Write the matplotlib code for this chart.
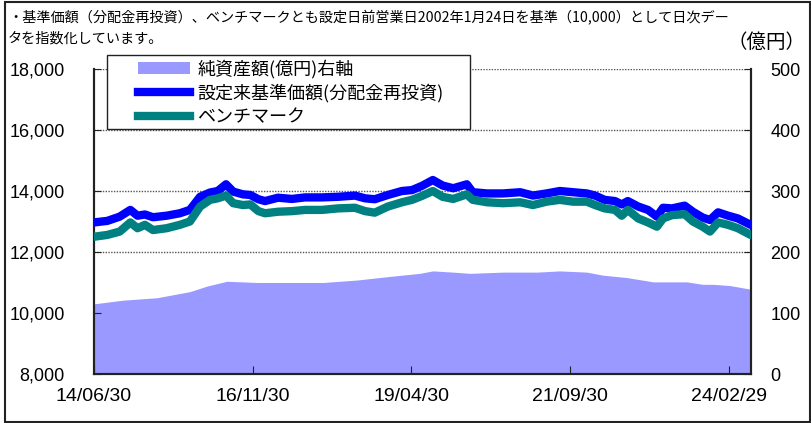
import matplotlib
matplotlib.use("Agg")
import matplotlib.pyplot as plt
from matplotlib.patches import Patch, Rectangle
from matplotlib.lines import Line2D
import pandas as pd

plt.rcParams['font.family'] = ['Noto Sans CJK JP', 'DejaVu Sans']

# ---- data ----
line_dates = ["2014-06-30", "2014-09-12", "2014-11-20", "2015-01-18", "2015-02-27", "2015-04-09",
              "2015-05-24", "2015-08-08", "2015-10-20", "2015-12-15", "2016-02-10", "2016-04-05",
              "2016-05-18", "2016-07-03", "2016-08-12", "2016-10-05", "2016-11-15", "2016-12-30",
              "2017-02-05", "2017-04-18", "2017-07-05", "2017-09-15", "2017-12-18", "2018-03-18",
              "2018-06-20", "2018-08-15", "2018-10-08", "2018-12-20", "2019-03-08", "2019-05-03",
              "2019-06-28", "2019-08-27", "2019-10-20", "2019-12-18", "2020-03-03", "2020-04-05",
              "2020-06-24", "2020-09-20", "2020-12-25", "2021-03-06", "2021-05-20", "2021-08-02",
              "2021-10-15", "2021-12-30", "2022-02-14", "2022-04-08", "2022-06-05", "2022-07-12",
              "2022-08-15", "2022-10-12", "2022-12-05", "2023-01-24", "2023-02-27", "2023-04-18",
              "2023-06-27", "2023-08-12", "2023-10-05", "2023-11-15", "2023-12-30", "2024-02-24",
              "2024-04-18", "2024-06-28"]
fund_nav = [12970, 13020, 13160, 13380, 13190, 13230, 13140, 13190, 13270, 13380, 13810, 13950,
            14000, 14220, 13980, 13890, 13870, 13730, 13670, 13780, 13740, 13790, 13790, 13810,
            13850, 13760, 13730, 13870, 14000, 14030, 14170, 14360, 14180, 14090, 14220, 13960,
            13920, 13920, 13960, 13850, 13920, 14000, 13960, 13920, 13850, 13710, 13670, 13560,
            13670, 13490, 13380, 13160, 13450, 13430, 13520, 13320, 13130, 13050, 13300, 13190,
            13100, 12890]
benchmark = [12500, 12560, 12670, 12970, 12780, 12890, 12720, 12780, 12890, 13000, 13490, 13710,
             13760, 13850, 13600, 13540, 13560, 13340, 13270, 13320, 13340, 13380, 13380, 13430,
             13450, 13340, 13290, 13490, 13630, 13710, 13840, 14000, 13810, 13740, 13890, 13710,
             13630, 13600, 13630, 13540, 13650, 13710, 13650, 13650, 13540, 13430, 13380, 13190,
             13380, 13100, 12970, 12830, 13100, 13210, 13240, 13000, 12830, 12670, 12970, 12890,
             12780, 12560]

asset_dates = ["2014-06-30", "2014-12-08", "2015-06-15", "2015-12-15", "2016-03-18", "2016-07-08",
               "2016-12-25", "2017-06-25", "2017-12-25", "2018-06-30", "2019-01-01", "2019-06-15",
               "2019-08-27", "2019-12-18", "2020-03-20", "2020-09-20", "2021-03-28", "2021-08-02",
               "2021-12-30", "2022-03-30", "2022-08-12", "2023-01-03", "2023-04-25", "2023-07-10",
               "2023-10-05", "2023-12-03", "2024-03-05", "2024-06-28"]
net_assets = [115, 121, 125, 135, 144, 152, 150, 150, 150, 154, 160, 165,
              169, 167, 165, 167, 167, 169, 167, 162, 158, 151, 151, 151,
              147, 147, 145, 139]

xtick_dates = ["2014-06-30", "2016-11-30", "2019-04-30", "2021-09-30", "2024-02-29"]
xtick_labels = ["14/06/30", "16/11/30", "19/04/30", "21/09/30", "24/02/29"]
left_ticks = [8000, 10000, 12000, 14000, 16000, 18000]
right_ticks = [0, 100, 200, 300, 400, 500]

legend_labels = ["純資産額(億円)右軸", "設定来基準価額(分配金再投資)", "ベンチマーク"]
note_text = ("・基準価額（分配金再投資）、ベンチマークとも設定日前営業日2002年1月24日を基準（10,000）として日次デー\n"
             "タを指数化しています。")
unit_text = "（億円）"

# ---- figure ----
W, H = 812, 423
fig = plt.figure(figsize=(W / 100, H / 100), dpi=100)
ax = fig.add_axes([94 / W, 1 - 374 / H, (751 - 94) / W, (374 - 69) / H])
ax2 = ax.twinx()

ld = pd.to_datetime(line_dates)
ad = pd.to_datetime(asset_dates)

AREA_C = '#9999FF'
BLUE_C = '#0000FF'
TEAL_C = '#008080'
LW = 6.0

ax2.fill_between(ad, 0, net_assets, color=AREA_C, linewidth=0, zorder=2)
ax2.set_ylim(0, 500)
ax2.set_yticks(right_ticks)
ax2.grid(axis='y', linestyle=(0, (1, 1)), color='#555555', linewidth=1.0, zorder=1)
ax2.set_axisbelow(True)

ax.set_zorder(ax2.get_zorder() + 1)
ax.patch.set_visible(False)
ax.plot(ld, fund_nav, color=BLUE_C, lw=LW, solid_capstyle='round', solid_joinstyle='round', zorder=3)
ax.plot(ld, benchmark, color=TEAL_C, lw=LW, solid_capstyle='round', solid_joinstyle='round', zorder=4)
ax.set_ylim(8000, 18000)
ax.set_yticks(left_ticks)
ax.set_yticklabels([f"{v:,}" for v in left_ticks])
ax.set_xlim(pd.Timestamp("2014-06-30"), pd.Timestamp("2024-06-30"))
ax.set_xticks(pd.to_datetime(xtick_dates))
ax.set_xticklabels(xtick_labels)

for lab in ax.get_yticklabels() + ax2.get_yticklabels():
    lab.set_fontfamily(['Liberation Sans', 'DejaVu Sans'])
    lab.set_fontsize(13)
for lab in ax.get_xticklabels():
    lab.set_fontfamily(['Liberation Sans', 'DejaVu Sans'])
    lab.set_fontsize(14)

ax.tick_params(axis='y', direction='in', length=5, pad=21, color='#222222')
ax.tick_params(axis='x', direction='in', length=6, pad=10, color='#222222')
ax2.tick_params(axis='y', direction='in', length=5, pad=14, color='#222222')

for a in (ax, ax2):
    a.spines['top'].set_visible(False)
    for s in ('left', 'right', 'bottom'):
        a.spines[s].set_linewidth(1.5)
        a.spines[s].set_color('#222222')

# legend box (frame drawn separately so the handles can sit inset like the reference)
fig.add_artist(Rectangle((107 / W, 1 - 129 / H), (470 - 107) / W, (129 - 55) / H,
                         transform=fig.transFigure, facecolor='white', edgecolor='#222222',
                         lw=1.0, zorder=5))
handles = [Patch(facecolor=AREA_C, edgecolor='none'),
           Line2D([], [], color=BLUE_C, lw=LW),
           Line2D([], [], color=TEAL_C, lw=LW)]
leg = fig.legend(handles, legend_labels, loc='upper left',
                 bbox_to_anchor=(133 / W, 1 - 55 / H),
                 fontsize=13, frameon=False, borderpad=0.25, labelspacing=0.3,
                 handlelength=2.9, handletextpad=0.4, borderaxespad=0)
leg.set_zorder(6)

fig.text(8 / W, 1 - 10 / H, note_text, fontsize=10.2, va='top', ha='left', linespacing=1.55)
fig.text(806 / W, 1 - 42 / H, unit_text, fontsize=14, va='center', ha='right')

fig.add_artist(Rectangle((5 / W, 1 / H), (810 - 5) / W, (422 - 1) / H - 0.002,
                         transform=fig.transFigure, fill=False, edgecolor='#222222', lw=1.5))

fig.savefig("out.png", dpi=100)
